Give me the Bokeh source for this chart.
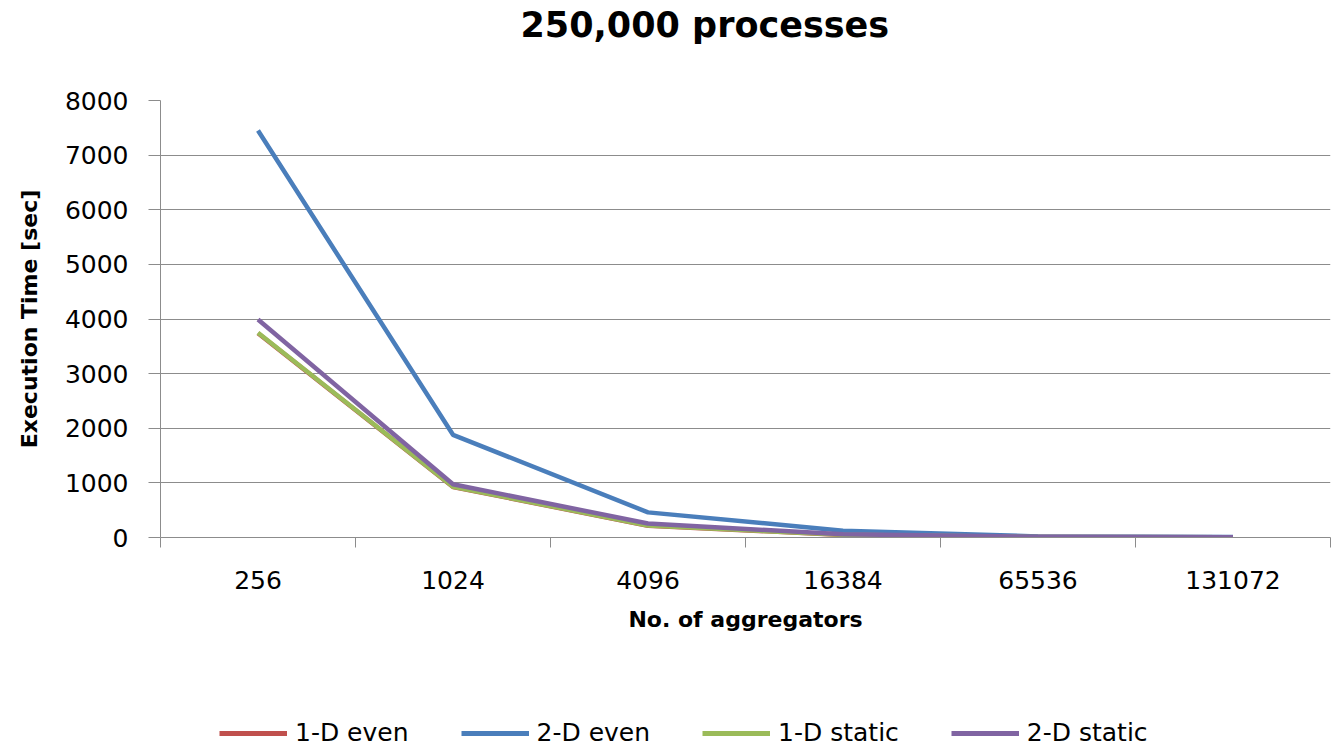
from bokeh.plotting import figure
from bokeh.layouts import column
from bokeh.models import (ColumnDataSource, Range1d, FixedTicker, Legend,
                          LegendItem, Title)
from bokeh.embed import file_html
from bokeh.resources import INLINE

# Number of aggregators (categorical x axis)
aggregators = ["256", "1024", "4096", "16384", "65536", "131072"]

# Execution time in seconds for each strategy
even_1d = [3740, 925, 215, 48, 10, 5]
even_2d = [7450, 1880, 460, 125, 20, 10]
static_1d = [3750, 930, 220, 50, 10, 5]
static_2d = [3990, 975, 255, 60, 12, 6]

y_ticks = [0, 1000, 2000, 3000, 4000, 5000, 6000, 7000, 8000]

series = [
    ("1-D even", even_1d, "#C0504D"),
    ("2-D even", even_2d, "#4A7EBB"),
    ("1-D static", static_1d, "#9BBB59"),
    ("2-D static", static_2d, "#8064A2"),
]

FONT = "DejaVu Sans"
GRID = "#8C8C8C"
W = 1332

n = len(aggregators)
centers = [i + 0.5 for i in range(n)]
sources = [ColumnDataSource(dict(x=centers, y=vals)) for _, vals, _ in series]

# ---- title strip ----
head = figure(width=W, height=60, output_backend="svg", toolbar_location=None,
              x_axis_type=None, y_axis_type=None, min_border=0,
              x_range=Range1d(0, 1), y_range=Range1d(0, 1))
head.outline_line_color = None
head.title = Title(text="250,000 processes", align="left", offset=360,
                   text_font=FONT, text_font_size="35px",
                   text_font_style="bold", text_color="black", standoff=4)

# ---- main chart ----
p = figure(width=W, height=630, output_backend="svg", toolbar_location=None,
           x_range=Range1d(0, n), y_range=Range1d(0, 8000),
           min_border_left=160, min_border_right=2,
           min_border_top=40, min_border_bottom=153)
p.outline_line_color = None

# x axis: labels at category centres, tick marks at category boundaries
xa = p.xaxis[0]
xa.ticker = FixedTicker(ticks=centers, minor_ticks=list(range(n + 1)))
xa.major_label_overrides = {c: lab for c, lab in zip(centers, aggregators)}
xa.major_tick_out = 0
xa.major_tick_in = 0
xa.minor_tick_out = 10
xa.minor_tick_in = 0
xa.minor_tick_line_color = GRID
xa.axis_line_color = GRID
xa.major_label_text_font = FONT
xa.major_label_text_font_size = "25px"
xa.major_label_text_color = "black"
xa.major_label_standoff = 23
xa.axis_label = "No. of aggregators"
xa.axis_label_text_font = FONT
xa.axis_label_text_font_size = "22px"
xa.axis_label_text_font_style = "bold"
xa.axis_label_text_color = "black"
xa.axis_label_standoff = 15

ya = p.yaxis[0]
ya.ticker = FixedTicker(ticks=y_ticks, minor_ticks=[])
ya.major_tick_out = 12
ya.major_tick_in = 0
ya.major_tick_line_color = GRID
ya.axis_line_color = GRID
ya.major_label_text_font = FONT
ya.major_label_text_font_size = "25px"
ya.major_label_text_color = "black"
ya.major_label_standoff = 20
ya.axis_label = "Execution Time [sec]"
ya.axis_label_text_font = FONT
ya.axis_label_text_font_size = "22px"
ya.axis_label_text_font_style = "bold"
ya.axis_label_text_color = "black"
ya.axis_label_standoff = 20

p.xgrid.grid_line_color = None
p.ygrid.ticker = FixedTicker(ticks=y_ticks)
p.ygrid.grid_line_color = GRID
p.ygrid.grid_line_width = 1

for (name, vals, color), src in zip(series, sources):
    p.line("x", "y", source=src, line_color=color, line_width=4.5,
           line_join="round")

# ---- legend strip (series lines fall outside its ranges) ----
foot = figure(width=W, height=58, output_backend="svg", toolbar_location=None,
              x_axis_type=None, y_axis_type=None, min_border=0,
              x_range=Range1d(0, 1), y_range=Range1d(-2, -1))
foot.outline_line_color = None
items = []
for (name, vals, color), src in zip(series, sources):
    r = foot.line("x", "y", source=src, line_color=color, line_width=5)
    items.append(LegendItem(label=name, renderers=[r]))

legend = Legend(items=items, orientation="horizontal", location=(59, 1),
                border_line_color=None, background_fill_alpha=0,
                label_text_font=FONT, label_text_font_size="25px",
                label_text_color="black", glyph_width=68, glyph_height=26,
                label_standoff=8, spacing=52, padding=0, margin=0)
foot.add_layout(legend, "center")

layout = column(head, p, foot, spacing=0)
open("out.html", "w").write(file_html(layout, INLINE))
